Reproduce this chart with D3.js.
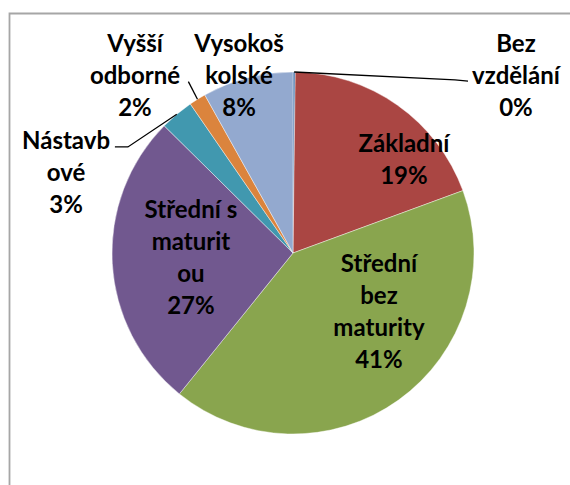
<!DOCTYPE html>
<html>
<head>
<meta charset="utf-8">
<script src="https://cdn.jsdelivr.net/npm/d3@7"></script>
<style>
  html, body { margin: 0; padding: 0; background: #fff; }
  svg { display: block; }
</style>
</head>
<body>
<svg id="chart" width="570" height="485"></svg>
<script>
// ---- data ----
const categories = ["Bez vzdělání", "Základní", "Střední bez maturity", "Střední s maturitou", "Nástavbové", "Vyšší odborné", "Vysokoškolské"];
const values = [0.2, 19.2, 41.4, 26.6, 3.0, 1.5, 8.1];
const labelLines = [
  ["Bez", "vzdělání"],
  ["Základní"],
  ["Střední", "bez", "maturity"],
  ["Střední s", "maturit", "ou"],
  ["Nástavb", "ové"],
  ["Vyšší", "odborné"],
  ["Vysokoš", "kolské"]
];
const colors = ["#4170A8", "#AA4643", "#89A54E", "#71588F", "#4198AF", "#DB843D", "#93A9CF"];

// ---- layout (in units of pie radius, relative to centre) ----
const labelPos = [
  [1.232, -1.112], [0.613, -0.558], [0.475, 0.103], [-0.564, -0.193],
  [-1.254, -0.573], [-0.873, -1.112], [-0.298, -1.112]
];
// leader line points after the arc point (units of radius), null = none
const leaders = [
  [[0.895, -0.956], [0.967, -0.950]],
  null, null, null,
  [[-0.912, -0.586], [-0.984, -0.586]],
  [[-0.578, -0.947]],
  null
];

const W = 570, H = 485;
const cx = 293, cy = 253, R = 181;
const fontSize = 24, lineH = 32;

const svg = d3.select("#chart");

// frame
svg.append("path")
  .attr("d", `M9.5,${H + 5} L9.5,13.5 L${W + 5},13.5`)
  .attr("fill", "none").attr("stroke", "#a6a6a6").attr("stroke-width", 1.8);

const g = svg.append("g").attr("transform", `translate(${cx},${cy})`);

const pie = d3.pie().sort(null).value(d => d.v);
const data = categories.map((c, i) => ({ c, v: values[i], i }));
const arcs = pie(data);
const total = d3.sum(values);

const arc = d3.arc().innerRadius(0).outerRadius(R);
const rs = d3.scaleLinear().domain([0, 1]).range([0, R]);

g.selectAll("path.slice").data(arcs).enter().append("path")
  .attr("class", "slice")
  .attr("d", arc)
  .attr("fill", d => colors[d.data.i])
  .attr("stroke", "#ffffff").attr("stroke-width", 0.6).attr("stroke-opacity", 0.7);

// leader lines
arcs.forEach((a, i) => {
  if (!leaders[i]) return;
  const mid = (a.startAngle + a.endAngle) / 2;
  const p0 = [Math.sin(mid) * R, -Math.cos(mid) * R];
  const pts = [p0].concat(leaders[i].map(p => [rs(p[0]), rs(p[1])]));
  g.append("path")
    .attr("d", d3.line()(pts))
    .attr("fill", "none").attr("stroke", "#000").attr("stroke-width", 1.3);
});

// labels
arcs.forEach((a, i) => {
  const lines = labelLines[i].concat([Math.round(values[i] / total * 100) + "%"]);
  const t = g.append("text")
    .attr("x", rs(labelPos[i][0])).attr("y", rs(labelPos[i][1]))
    .attr("text-anchor", "middle")
    .attr("font-family", "Lato, 'Open Sans', sans-serif")
    .attr("font-weight", "bold")
    .attr("font-size", fontSize)
    .attr("fill", "#000");
  lines.forEach((l, k) => {
    t.append("tspan").attr("x", rs(labelPos[i][0])).attr("dy", k === 0 ? 0 : lineH).text(l);
  });
});
</script>
</body>
</html>
